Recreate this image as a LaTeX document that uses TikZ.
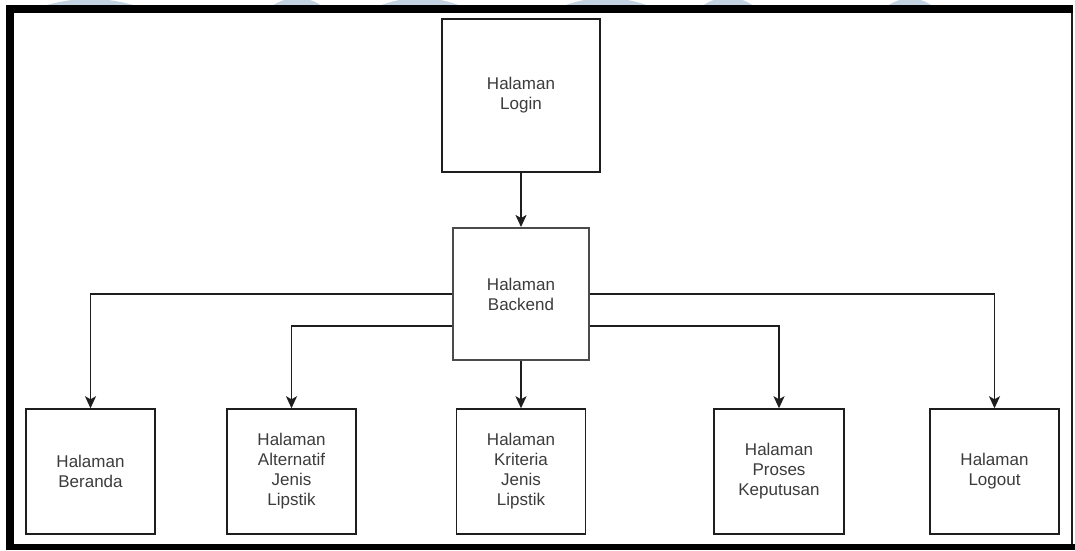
\documentclass[tikz,border=0pt]{standalone}
\usepackage{fontspec}
\setmainfont{Liberation Sans}
\usetikzlibrary{arrows.meta}
\definecolor{wmark}{RGB}{196,211,225}
\definecolor{boxline}{RGB}{30,30,30}
\definecolor{txt}{RGB}{60,60,60}
\tikzset{
  page/.style={draw=boxline, line width=1.5pt, fill=white, align=center,
    text=txt, font=\fontsize{17}{20}\selectfont, inner sep=0pt},
  conn/.style={draw=boxline, line width=1.6pt,
    -{Stealth[length=12pt,width=11pt,inset=3pt]}}
}
\begin{document}
\begin{tikzpicture}[x=1pt,y=-1pt]
  \useasboundingbox (0,0) rectangle (1075,550);
  \fill[white] (0,0) rectangle (1075,550);

  % faint watermark shapes peeking above the frame
  \begin{scope}
    \clip (0,0) rectangle (1075,5.5);
    \fill[wmark] (90,155) circle[radius=156];
    \fill[wmark] (297,41) circle[radius=43];
    \fill[wmark] (420,106) circle[radius=108];
    \fill[wmark] (606,116) circle[radius=118];
    \fill[wmark] (728,40.5) circle[radius=43];
    \fill[wmark] (910,35.5) circle[radius=37];
  \end{scope}

  % outer frame
  \fill[black] (6,5) rectangle (1072.5,13);
  \fill[black] (6,5) rectangle (14,550);
  \fill[black] (6,543.5) rectangle (1075,550);
  \draw[boxline, line width=1.3pt] (1072,13) -- (1072,543.5);

  % pages
  \node[page, minimum width=158pt, minimum height=153pt] (login) at (521,95.5) {Halaman\\Login};
  \node[page, draw=boxline!80, line width=2pt, minimum width=136pt, minimum height=132pt] (backend) at (521,294) {Halaman\\Backend};
  \node[page, minimum width=129pt, minimum height=125pt] (beranda) at (90.5,471.5) {Halaman\\Beranda};
  \node[page, minimum width=129pt, minimum height=125pt] (alternatif) at (291.5,471.5) {Halaman\\Alternatif\\Jenis\\Lipstik};
  \node[page, minimum width=129pt, minimum height=125pt] (kriteria) at (521,471.5) {Halaman\\Kriteria\\Jenis\\Lipstik};
  \node[page, minimum width=130pt, minimum height=125pt] (proses) at (779,471.5) {Halaman\\Proses\\Keputusan};
  \node[page, minimum width=129pt, minimum height=125pt] (logout) at (994.5,471.5) {Halaman\\Logout};

  % navigation links
  \draw[conn] (login.south) -- (backend.north);
  \draw[conn] (backend.west) -| (beranda.north);
  \draw[conn] ([yshift=-32pt]backend.west) -| (alternatif.north);
  \draw[conn] (backend.south) -- (kriteria.north);
  \draw[conn] ([yshift=-32pt]backend.east) -| (proses.north);
  \draw[conn] (backend.east) -| (logout.north);
\end{tikzpicture}
\end{document}
